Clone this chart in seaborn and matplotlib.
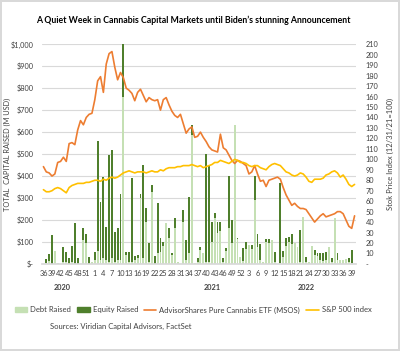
import matplotlib.pyplot as plt
import pandas as pd
import seaborn as sns
from matplotlib.lines import Line2D
from matplotlib.patches import Patch
from matplotlib.transforms import blended_transform_factory

# weekly buckets: 2020 wk36-53, 2021 wk1-52, 2022 wk1-40
weeks = list(range(36, 54)) + list(range(1, 53)) + list(range(1, 41))
years = ["2020", "2021", "2022"]
year_pos = [6.5, 59, 92]

debt = [
    0, 5, 15, 0, 59, 6, 0, 10, 10, 0, 10, 0, 0, 0, 109, 94, 0, 10, 20, 59,
    18, 27, 18, 10, 27, 10, 20, 18, 760, 40, 10, 10, 20, 26, 300, 27, 190, 10, 329, 0,
    50, 55, 80, 188, 120, 40, 164, 10, 0, 190, 20, 50, 586, 5, 7, 65, 52, 10, 10, 101,
    210, 141, 150, 7, 60, 162, 95, 632, 115, 33, 15, 70, 86, 70, 291, 79, 20, 10, 100, 95,
    109, 10, 0, 5, 30, 80, 100, 90, 94, 79, 10, 215, 10, 10, 82, 40, 35, 20, 15, 20,
    79, 10, 208, 20, 18, 18, 21, 10, 4, 0,
]
equity = [
    0, 16, 29, 132, 0, 0, 0, 69, 45, 27, 72, 186, 27, 0, 53, 42, 33, 0, 35, 501,
    262, 370, 152, 485, 491, 137, 142, 300, 240, 15, 45, 380, 14, 14, 18, 423, 66, 85, 30, 36,
    229, 62, 21, 0, 42, 10, 44, 0, 0, 55, 89, 256, 46, 0, 20, 14, 0, 490, 435, 91,
    23, 49, 40, 20, 14, 238, 105, 0, 5, 0, 56, 31, 0, 16, 109, 57, 71, 0, 12, 17,
    0, 46, 0, 365, 31, 40, 24, 45, 0, 0, 145, 0, 23, 0, 0, 24, 13, 28, 33, 36,
    0, 16, 0, 28, 0, 0, 0, 17, 60, 0,
]
msos = [
    93, 88, 87, 84, 86, 97, 98, 102, 98, 115, 116, 114, 128, 137, 133, 140, 143, 144, 157, 175,
    179, 164, 191, 201, 203, 188, 176, 183, 178, 168, 166, 163, 156, 164, 167, 161, 155, 159, 157, 156,
    157, 147, 157, 159, 152, 146, 142, 140, 143, 134, 125, 129, 131, 121, 122, 126, 121, 117, 112, 109,
    108, 107, 124, 111, 109, 104, 99, 96, 99, 98, 96, 94, 86, 88, 94, 86, 79, 80, 74, 80,
    81, 82, 83, 81, 73, 66, 61, 56, 58, 55, 53, 53, 52, 48, 44, 40, 43, 46, 48, 45,
    46, 47, 48, 50, 50, 48, 42, 36, 34, 46,
]
spx = [
    71, 69, 69, 70, 72, 73, 72, 70, 68, 73, 75, 76, 77, 77, 77, 78, 78, 79, 80, 80,
    79, 81, 80, 82, 83, 82, 83, 85, 87, 88, 89, 88, 87, 88, 88, 88, 87, 88, 89, 88,
    88, 90, 89, 91, 92, 92, 92, 93, 93, 94, 94, 94, 95, 94, 93, 94, 92, 93, 94, 95,
    97, 97, 99, 98, 97, 96, 98, 100, 99, 97, 97, 96, 94, 93, 94, 94, 92, 91, 90, 93,
    95, 96, 95, 94, 91, 88, 87, 85, 84, 85, 87, 86, 83, 79, 78, 81, 81, 81, 82, 85,
    86, 88, 89, 87, 83, 85, 81, 76, 74, 76,
]

DEBT = "#c5e0b4"
EQUITY = "#4f7f2c"
ORANGE = "#ed7d31"
GOLD = "#ffc000"
TXT = "#404040"

df = pd.DataFrame({
    "idx": range(len(weeks)),
    "week": weeks,
    "debt": debt,
    "total": [d + e for d, e in zip(debt, equity)],
    "msos": msos,
    "spx": spx,
})

sns.set_theme(style="white")
plt.rcParams["font.family"] = ["Lato", "DejaVu Sans"]

fig = plt.figure(figsize=(4, 3.51), dpi=100)
fig.patch.set_edgecolor("#d9d9d9")
fig.patch.set_linewidth(1.5)
ax = fig.add_axes([0.105, 0.248, 0.785, 0.626])

# stacked look: total in equity colour, debt drawn over it from zero
sns.barplot(data=df, x="idx", y="total", native_scale=True, color=EQUITY,
            saturation=1, width=0.65, errorbar=None, linewidth=0, ax=ax)
sns.barplot(data=df, x="idx", y="debt", native_scale=True, color=DEBT,
            saturation=1, width=0.65, errorbar=None, linewidth=0, ax=ax)

ax2 = ax.twinx()
sns.lineplot(data=df, x="idx", y="msos", color=ORANGE, lw=1.2, ax=ax2)
sns.lineplot(data=df, x="idx", y="spx", color=GOLD, lw=1.2, ax=ax2)

ax.set_ylim(0, 1000)
ax.set_yticks(range(0, 1001, 100))
ax.set_yticklabels(["$-"] + [f"${v:,}" for v in range(100, 1001, 100)])
ax.grid(axis="y", color="#d9d9d9", lw=0.8)
ax.set_axisbelow(True)

ax2.set_ylim(0, 210)
ax2.set_yticks(range(0, 211, 10))
ax2.set_yticklabels(["-"] + [str(v) for v in range(10, 211, 10)])

ax.set_xlim(-0.5, len(weeks) - 0.5)
ax.set_xticks(df["idx"][::3])
ax.set_xticklabels(df["week"][::3])

for a in (ax, ax2):
    for s in a.spines.values():
        s.set_visible(False)
    a.tick_params(length=0, labelsize=5.3, labelcolor=TXT)
ax.spines["bottom"].set_visible(True)
ax.spines["bottom"].set_color("#d9d9d9")
ax.tick_params(axis="y", pad=6)
ax.tick_params(axis="x", pad=4)
ax2.tick_params(axis="y", pad=7)

ax.set_xlabel("")
ax.set_ylabel("TOTAL  CAPITAL RAISED (M USD)", fontsize=5.3, color=TXT)
ax.yaxis.set_label_coords(-0.1, 0.5)
ax2.set_ylabel("Stok Price Index (12/31/21=100)", fontsize=5.5, color=TXT,
               rotation=90, labelpad=6)

trans = blended_transform_factory(ax.transData, ax.transAxes)
for yr, pos in zip(years, year_pos):
    ax.text(pos, -0.105, yr, transform=trans, ha="center", va="center",
            fontsize=5.3, fontweight="bold", color=TXT)

fig.text(0.4825, 0.943, "A Quiet Week in Cannabis Capital Markets until Biden\u2019s stunning Announcement",
         ha="center", va="center", fontsize=6.3, fontweight="bold", color="black")

handles = [
    Patch(color=DEBT, label="Debt Raised"),
    Patch(color=EQUITY, label="Equity Raised"),
    Line2D([], [], color=ORANGE, lw=1.2, label="AdvisorShares Pure Cannabis ETF (MSOS)"),
    Line2D([], [], color=GOLD, lw=1.2, label="S&P 500 index"),
]
leg = fig.legend(handles=handles, loc="center", bbox_to_anchor=(0.483, 0.117), ncol=4,
                 frameon=False, fontsize=5.5, handlelength=1.6, handleheight=0.5,
                 columnspacing=0.8, handletextpad=0.4)
for t in leg.get_texts():
    t.set_color(TXT)

fig.text(0.125, 0.071, "Sources: Viridian Capital Advisors, FactSet", ha="left",
         va="center", fontsize=5.5, color=TXT)

fig.savefig("out.png", dpi=100)
